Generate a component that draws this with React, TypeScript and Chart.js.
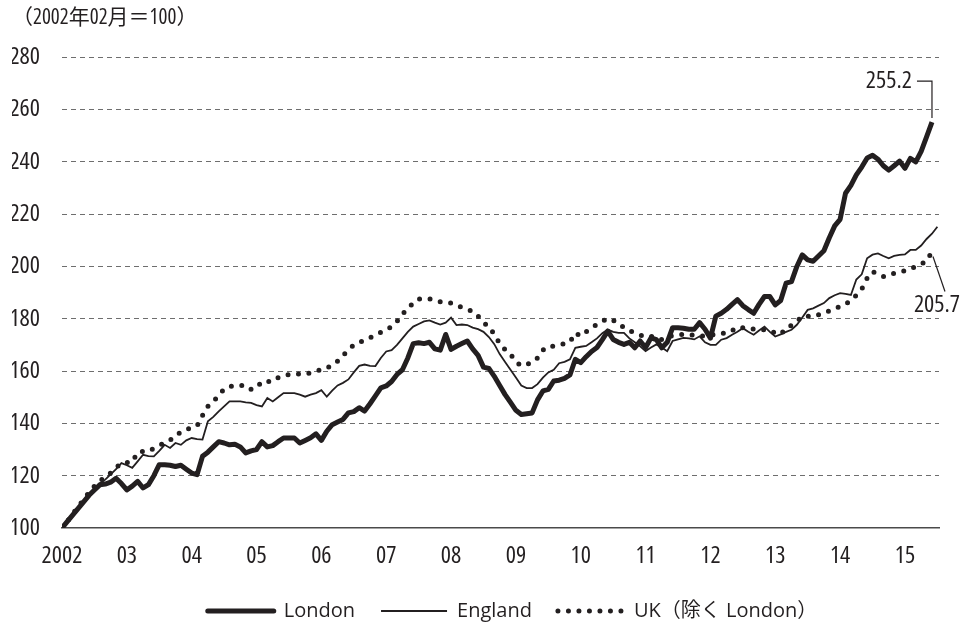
import React, { useEffect, useRef } from "react";
import { Chart, registerables } from "chart.js";

Chart.register(...registerables);

const TITLE = "（2002年02月＝100）";
const YEAR_LABELS = ["2002", "03", "04", "05", "06", "07", "08", "09", "10", "11", "12", "13", "14", "15"];
const SERIES_NAMES = ["London", "England", "UK（除く London）"];
const Y_MIN = 100;
const Y_MAX = 280;
const Y_STEP = 20;

// monthly index, Feb 2002 = 100
const LONDON = [
  100, 102.5, 105, 107.5, 110, 112.5, 114.5, 116.5, 116.8, 117.5,
  119, 117, 114.6, 116, 117.8, 115.3, 116.6, 120, 124.2, 124.2,
  124, 123.5, 124, 122.5, 121, 120.4, 127.4, 129, 131, 133,
  132.5, 131.8, 132, 131, 128.7, 129.5, 130, 133, 131, 131.5,
  133, 134.4, 134.4, 134.4, 132.5, 133.5, 134.5, 136, 133.5, 137,
  139.5, 140.5, 141.5, 144, 144.5, 146, 144.7, 147.5, 150.5, 153.6,
  154.3, 156, 158.7, 160.5, 165, 170.5, 170.8, 170.5, 171, 168.5,
  168, 174, 168.3, 169.5, 170.5, 171.5, 168.5, 166, 161.5, 161,
  158, 154.5, 151, 148, 145, 143.4, 143.7, 144, 149, 152.4,
  153, 156.2, 156.5, 157.2, 158.5, 164.5, 163.2, 165.5, 167.5, 169,
  172, 175.3, 172.1, 171, 170.2, 171, 168.9, 171.5, 169, 172.7,
  172, 168.9, 171, 176.6, 176.6, 176.4, 176, 176, 178.5, 176,
  172.6, 181, 182.1, 183.6, 185.5, 187.3, 185, 183.5, 182.1, 185.5,
  188.5, 188.5, 185.3, 187, 193.6, 194.2, 200, 204.4, 202.5, 202,
  204, 206, 211, 215.5, 218, 228, 231, 235, 238, 241.5,
  242.5, 241, 238.5, 236.8, 238.5, 240.3, 237.5, 241.3, 240, 244,
  249.5, 255.2,
];

const ENGLAND = [
  100, 102.5, 105, 108, 110.5, 113, 115, 117, 118.5, 120.5,
  122.5, 124.8, 124, 123, 125.5, 128, 127.5, 127.4, 129.5, 131.8,
  130.6, 132.5, 131.8, 133.5, 134.4, 134, 133.8, 140.8, 142.5, 144.6,
  146.5, 148.4, 148.4, 148.4, 148, 147.8, 147, 146.5, 149.7, 148.4,
  150, 151.6, 151.6, 151.6, 151, 150.2, 151, 151.6, 152.7, 150.2,
  152.5, 154.5, 155.5, 156.8, 159.5, 162, 162.5, 162, 161.9, 165,
  167.5, 168, 170, 172.5, 175, 177, 178, 179, 179.4, 178.5,
  177.8, 178.5, 180.4, 177.6, 177.8, 177.6, 176.6, 176, 175, 173,
  170.3, 166.5, 163.5, 160.5, 157.5, 154.5, 153.5, 153.5, 155, 157.5,
  159.5, 160.5, 163, 163.5, 164.5, 168.9, 169.3, 169.6, 171, 172.5,
  174.5, 175.9, 175, 174.6, 174.6, 172.5, 171, 169.5, 167.6, 169,
  170.2, 169, 167.6, 171.5, 172.1, 172.7, 172.5, 172.1, 173.3, 171,
  170, 170, 172, 172.6, 173.9, 175, 176.4, 175, 173.9, 175.5,
  177, 175, 173.2, 174, 175, 175.8, 177.7, 180.5, 183.4, 184,
  185, 186, 187.9, 189, 189.8, 189.5, 189.1, 195, 197, 203.1,
  204.5, 205, 204, 203.1, 204, 204.4, 204.6, 206.3, 206.3, 208,
  210.5, 212.5, 215.2,
];

const UK_EX_LONDON = [
  100, 102.5, 105.5, 108, 111, 113.5, 116, 118, 119.5, 121,
  123, 124.8, 125, 125.2, 129, 129.3, 129.3, 130.5, 131.6, 132.5,
  133.5, 135.5, 136.5, 137.6, 138.5, 139, 143, 146.5, 148.5, 150.5,
  153.2, 154, 154.5, 154.5, 154.5, 153, 153.5, 156, 156, 156,
  157.5, 158.3, 158.6, 158.9, 158.9, 158.8, 159.3, 160, 160.5, 161,
  162.5, 163.8, 166, 168, 170, 171, 171.7, 172.8, 173.6, 174.8,
  175.7, 177, 179, 181.7, 184, 186, 187.6, 187.6, 187.6, 187,
  186.5, 186.3, 186, 185, 184.4, 183.5, 182.9, 181, 178.5, 177,
  174, 170.5, 168.2, 166.5, 163.5, 162, 162.5, 163.3, 165, 168,
  169.5, 169.5, 169.9, 170.5, 171.1, 174.6, 173.4, 175, 176.5, 177.8,
  179, 180.1, 179.3, 178.5, 176.5, 175.5, 174.5, 173.8, 173.1, 173.2,
  173, 172, 173, 173.5, 173.8, 174, 174, 173.6, 173.4, 173.5,
  173.8, 174, 174.4, 174.5, 175.5, 176.8, 176.6, 176.4, 176, 175.8,
  175.8, 175.5, 174.5, 174, 176.4, 177.5, 179, 181, 181, 180.9,
  181.5, 182.1, 183, 183.8, 184.7, 185.6, 187, 189, 191.3, 195.5,
  198, 197, 196.1, 196.8, 197.4, 198, 198.3, 199, 200, 201,
  202, 205.7,
];

const INK = "#231f20";
const FAMILY = '"Open Sans", "Noto Sans CJK JP", sans-serif';
// Chart.js builds "normal condensed <size>px <family>" from this weight value
const COND = "condensed";

const toPoints = (arr: number[]) => arr.map((v, i) => ({ x: i, y: v }));

const endLabels = {
  id: "endLabels",
  beforeDraw(chart: any) {
    // nudge legend to the right like the original layout
    const lg = chart.legend;
    if (lg && !lg._shifted) {
      lg.left += 12;
      lg.right += 12;
      lg._shifted = true;
    }
  },
  afterDatasetsDraw(chart: any) {
    const { ctx, scales } = chart;
    const xs = scales.x;
    const ys = scales.y;
    ctx.save();
    ctx.strokeStyle = INK;
    ctx.fillStyle = INK;
    ctx.lineWidth = 1.2;
    ctx.font = `normal ${COND} 24px ${FAMILY}`;
    ctx.textBaseline = "middle";

    const li = LONDON.length - 1;
    const lx = xs.getPixelForValue(li);
    const ly = ys.getPixelForValue(LONDON[li]);
    ctx.beginPath();
    ctx.moveTo(lx, ly - 4);
    ctx.lineTo(lx, ly - 41);
    ctx.lineTo(lx - 15, ly - 41);
    ctx.stroke();
    ctx.textAlign = "right";
    ctx.fillText(LONDON[li].toFixed(1), lx - 20, ly - 41);

    const ui = UK_EX_LONDON.length - 1;
    const ux = xs.getPixelForValue(ui);
    const uy = ys.getPixelForValue(UK_EX_LONDON[ui]);
    ctx.beginPath();
    ctx.moveTo(ux + 1, uy + 5);
    ctx.lineTo(ux + 13, uy + 40);
    ctx.stroke();
    ctx.textAlign = "center";
    ctx.fillText(UK_EX_LONDON[ui].toFixed(1), ux + 5, uy + 54);
    ctx.restore();
  },
};

export default function App() {
  const ref = useRef<HTMLCanvasElement | null>(null);

  useEffect(() => {
    if (!ref.current) return;
    Chart.defaults.font.family = FAMILY;
    Chart.defaults.color = INK;

    const tickFont = { size: 24, family: FAMILY, weight: COND };

    const chart = new Chart(ref.current, {
      type: "line",
      data: {
        datasets: [
          {
            label: SERIES_NAMES[0],
            data: toPoints(LONDON),
            borderColor: INK,
            borderWidth: 5,
            borderJoinStyle: "round",
            pointRadius: 0,
            tension: 0,
          },
          {
            label: SERIES_NAMES[1],
            data: toPoints(ENGLAND),
            borderColor: INK,
            borderWidth: 1.8,
            pointRadius: 0,
            tension: 0,
          },
          {
            label: SERIES_NAMES[2],
            data: toPoints(UK_EX_LONDON),
            borderColor: INK,
            borderWidth: 5,
            borderDash: [0, 10.5],
            borderCapStyle: "round",
            pointRadius: 0,
            tension: 0,
          },
        ] as any,
      },
      options: {
        responsive: false,
        animation: false,
        layout: { padding: { left: 12, right: 31, top: 0, bottom: -2 } },
        scales: {
          x: {
            type: "linear",
            min: 0,
            max: 162.3,
            afterFit: (s: any) => {
              s.height = 47;
            },
            afterBuildTicks: (s: any) => {
              s.ticks = YEAR_LABELS.map((_, k) => ({ value: k * 12 }));
            },
            ticks: {
              padding: 14,
              maxRotation: 0,
              autoSkip: false,
              font: tickFont,
              color: INK,
              callback: (v: any) => YEAR_LABELS[Math.round(Number(v) / 12)] ?? "",
            },
            grid: { display: false, drawTicks: false },
            border: { display: true, color: "#4a4a4a", width: 1.5 },
          },
          y: {
            type: "linear",
            min: Y_MIN,
            max: Y_MAX,
            afterFit: (s: any) => {
              s.width = 50;
            },
            ticks: {
              stepSize: Y_STEP,
              padding: 22,
              font: tickFont,
              color: INK,
            },
            grid: {
              drawTicks: false,
              lineWidth: 1,
              color: (c: any) => (c.tick && c.tick.value === Y_MIN ? "rgba(0,0,0,0)" : "#6e6e6e"),
            },
            border: { display: false, dash: [5, 4] },
          },
        },
        plugins: {
          title: {
            display: true,
            text: TITLE,
            align: "start",
            color: INK,
            font: { size: 21, family: FAMILY, weight: COND },
            padding: { top: 5, bottom: 27 },
          },
          legend: {
            display: true,
            position: "bottom",
            fullSize: false,
            labels: {
              usePointStyle: true,
              pointStyleWidth: 66,
              padding: 26,
              color: INK,
              font: { size: 20, family: FAMILY },
              generateLabels: (ch: any) =>
                ch.data.datasets.map((ds: any, i: number) => ({
                  text: ds.label,
                  fillStyle: "rgba(0,0,0,0)",
                  strokeStyle: INK,
                  fontColor: INK,
                  lineWidth: ds.borderWidth,
                  lineDash: ds.borderDash || [],
                  lineCap: i === 1 ? "butt" : "round",
                  pointStyle: "line",
                  hidden: false,
                  datasetIndex: i,
                })),
            },
          },
          tooltip: { enabled: false },
        },
      } as any,
      plugins: [endLabels],
    });
    return () => chart.destroy();
  }, []);

  return (
    <div style={{ position: "fixed", left: 0, top: 0, width: 970, height: 629, background: "#fff" }}>
      <canvas ref={ref} width={970} height={629} />
    </div>
  );
}
